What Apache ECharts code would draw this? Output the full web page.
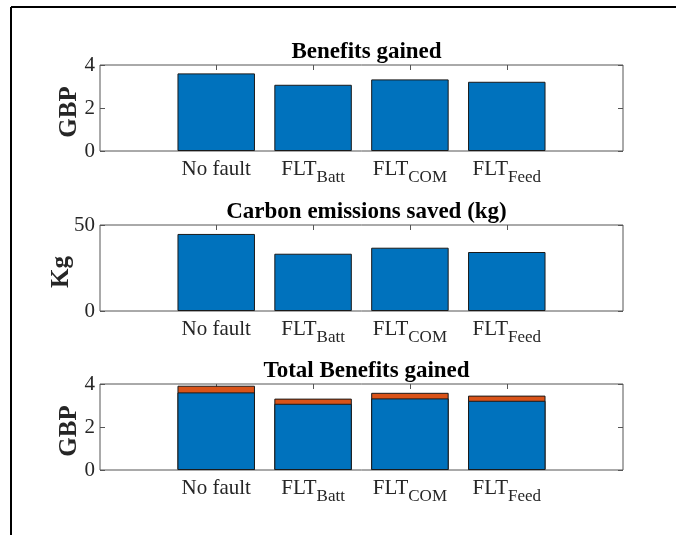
<!DOCTYPE html>
<html>
<head>
<meta charset="utf-8">
<script src="https://cdn.jsdelivr.net/npm/echarts@6/dist/echarts.min.js"></script>
<style>
  html, body { margin: 0; padding: 0; background: #fff; }
  #chart { width: 676px; height: 535px; }
</style>
</head>
<body>
<div id="chart"></div>
<script>
// Scenario labels (main text + optional subscript)
const scenarios = ['No fault', 'FLT_Batt', 'FLT_COM', 'FLT_Feed'];
const scenarioPos = [1, 2, 3, 4];

// Panel titles and y-axis names
const panelTitles = ['Benefits gained', 'Carbon emissions saved (kg)', 'Total Benefits gained'];
const panelYNames = ['GBP', 'Kg', 'GBP'];

// Values
const benefitsGBP = [3.61, 3.08, 3.33, 3.22];
const carbonSavedKg = [44.8, 33.3, 36.8, 34.3];
const carbonValueGBP = [0.31, 0.24, 0.26, 0.24];

// y-axis ranges and tick steps
const yMax = [4, 50, 4];
const yStep = [2, 50, 2];

const FONT = 'Liberation Serif';
const BLUE = '#0072BD';
const ORANGE = '#D95319';
const AXIS = '#555555';
const TEXT = '#262626';

const gridTops = [65, 225, 384];
const gridHeight = 86;
const yNameGaps = [18, 26, 18];

function labelText(i) {
  const name = scenarios[i];
  const k = name.indexOf('_');
  if (k < 0) return '{m|' + name + '}';
  return '{m|' + name.slice(0, k) + '}{s|' + name.slice(k + 1) + '}';
}

const grids = [], xAxes = [], yAxes = [], titles = [];
gridTops.forEach((top, g) => {
  grids.push({ left: 100, right: 53, top: top, height: gridHeight,
               show: true, borderColor: AXIS, borderWidth: 1, backgroundColor: 'transparent' });
  // bottom axis with labels
  xAxes.push({
    type: 'value', gridIndex: g, min: -0.2, max: 5.2, position: 'bottom',
    axisLine: { show: false, onZero: false }, splitLine: { show: false },
    axisTick: { show: true, inside: true, length: 5, customValues: scenarioPos,
                lineStyle: { color: AXIS } },
    axisLabel: {
      show: true, customValues: scenarioPos, margin: 8,
      formatter: v => labelText(Math.round(v) - 1),
      rich: {
        m: { fontFamily: FONT, fontSize: 21, color: TEXT, lineHeight: 23, verticalAlign: 'top' },
        s: { fontFamily: FONT, fontSize: 17, color: TEXT, lineHeight: 19, verticalAlign: 'top',
             padding: [10, 0, 0, 0] }
      }
    }
  });
  // top axis carrying the inner ticks of the box
  xAxes.push({
    type: 'value', gridIndex: g, min: -0.2, max: 5.2, position: 'top',
    axisLine: { show: false, onZero: false }, splitLine: { show: false },
    axisTick: { show: true, inside: true, length: 5, customValues: scenarioPos,
                lineStyle: { color: AXIS } },
    axisLabel: { show: false }
  });
  yAxes.push({
    type: 'value', gridIndex: g, min: 0, max: yMax[g], interval: yStep[g], position: 'left',
    name: panelYNames[g], nameLocation: 'middle', nameGap: yNameGaps[g], nameRotate: 90,
    nameMoveOverlap: false,
    nameTextStyle: { fontFamily: FONT, fontSize: 25, fontWeight: 'bold', color: TEXT,
                     padding: [0, 8, 0, 0] },
    axisLine: { show: false, onZero: false }, splitLine: { show: false },
    axisTick: { show: true, inside: true, length: 5, lineStyle: { color: AXIS } },
    axisLabel: { fontFamily: FONT, fontSize: 21, color: TEXT, margin: 5 }
  });
  yAxes.push({
    type: 'value', gridIndex: g, min: 0, max: yMax[g], interval: yStep[g], position: 'right',
    axisLine: { show: false, onZero: false }, splitLine: { show: false },
    axisTick: { show: true, inside: true, length: 5, lineStyle: { color: AXIS } },
    axisLabel: { show: false }
  });
  titles.push({
    text: panelTitles[g], left: 361.5, top: top - 29, textAlign: 'center',
    textStyle: { fontFamily: FONT, fontSize: 23, fontWeight: 'bold', color: '#000' }
  });
});

const barStyle = c => ({ color: c, borderColor: '#1a1a1a', borderWidth: 1 });
const pairs = arr => arr.map((v, i) => [scenarioPos[i], v]);
// stacked total: carbon value sits on top of the direct benefit
const totalGBP = benefitsGBP.map((v, i) => v + carbonValueGBP[i]);

const option = {
  animation: false,
  backgroundColor: '#fff',
  title: titles,
  grid: grids,
  xAxis: xAxes,
  yAxis: yAxes,
  series: [
    { type: 'bar', xAxisIndex: 0, yAxisIndex: 0, barWidth: '80%',
      data: pairs(benefitsGBP), itemStyle: barStyle(BLUE) },
    { type: 'bar', xAxisIndex: 2, yAxisIndex: 2, barWidth: '80%',
      data: pairs(carbonSavedKg), itemStyle: barStyle(BLUE) },
    // upper segment (orange) drawn as full-height bar behind the blue one
    { type: 'bar', xAxisIndex: 4, yAxisIndex: 4, barWidth: '80%', barGap: '-100%',
      data: pairs(totalGBP), itemStyle: barStyle(ORANGE) },
    { type: 'bar', xAxisIndex: 4, yAxisIndex: 4, barWidth: '80%', barGap: '-100%',
      data: pairs(benefitsGBP), itemStyle: barStyle(BLUE) }
  ],
  graphic: [
    { type: 'line', shape: { x1: 11, y1: 7, x2: 676, y2: 7 }, style: { stroke: '#000', lineWidth: 2 } },
    { type: 'line', shape: { x1: 11, y1: 7, x2: 11, y2: 535 }, style: { stroke: '#000', lineWidth: 2 } }
  ]
};

const chart = echarts.init(document.getElementById('chart'), null, { renderer: 'canvas' });
chart.setOption(option);
</script>
</body>
</html>
